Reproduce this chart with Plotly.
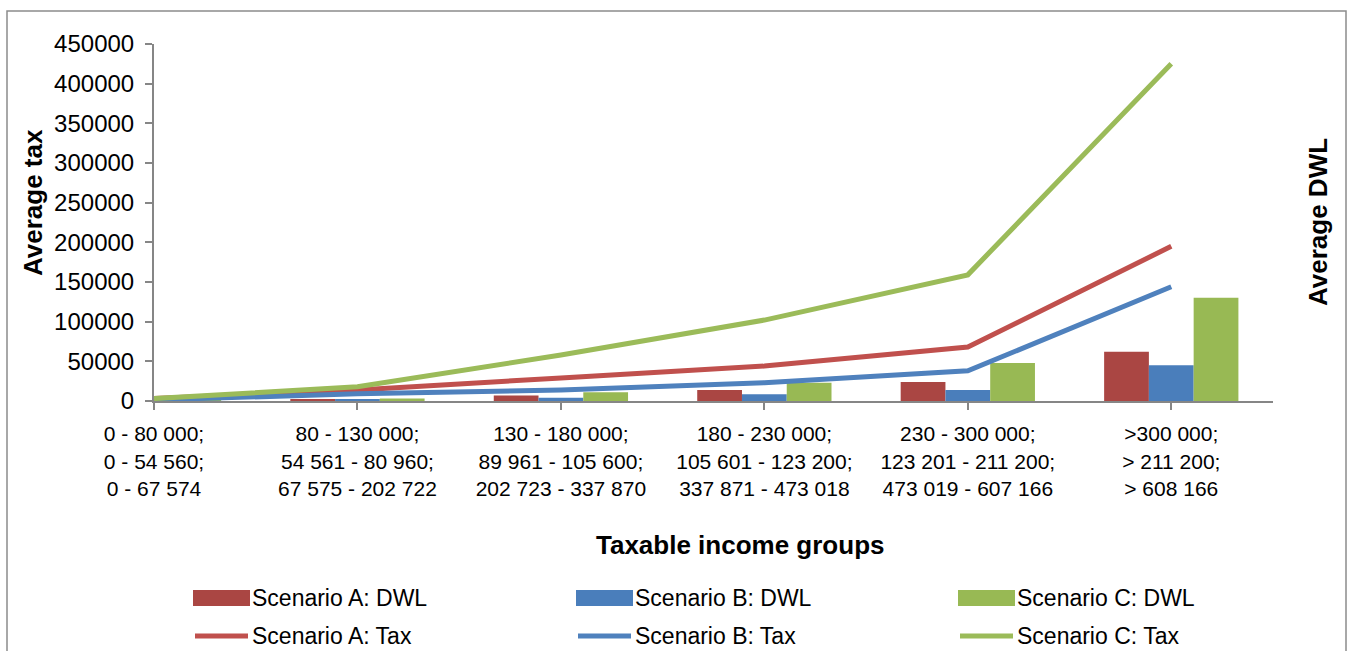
import plotly.graph_objects as go

# Income group labels (three bracket definitions per group)
groups = [
    "0 - 80 000;<br>0 - 54 560;<br>0 - 67 574",
    "80 - 130 000;<br>54 561 - 80 960;<br>67 575 - 202 722",
    "130 - 180 000;<br>89 961 - 105 600;<br>202 723 - 337 870",
    "180 - 230 000;<br>105 601 - 123 200;<br>337 871 - 473 018",
    "230 - 300 000;<br>123 201 - 211 200;<br>473 019 - 607 166",
    ">300 000;<br>> 211 200;<br>> 608 166",
]
positions = [0, 1, 2, 3, 4, 5]

# Average deadweight loss per scenario
dwl_a = [300, 2000, 7000, 14000, 24000, 62000]
dwl_b = [200, 1500, 4000, 8500, 14000, 45000]
dwl_c = [400, 3000, 11000, 23000, 48000, 130000]

# Average tax per scenario
tax_a = [3000, 14000, 29000, 44000, 68000, 195000]
tax_b = [1500, 9000, 14000, 23000, 38000, 144000]
tax_c = [3000, 18000, 58000, 102000, 159000, 425000]

y_ticks = [0, 50000, 100000, 150000, 200000, 250000, 300000, 350000, 400000, 450000]

bar_names = ["Scenario A: DWL", "Scenario B: DWL", "Scenario C: DWL"]
line_names = ["Scenario A: Tax", "Scenario B: Tax", "Scenario C: Tax"]
bar_colors = ["#AA4643", "#4A7EBB", "#98B954"]
line_colors = ["#C0504D", "#4F81BD", "#9BBB59"]

W, H = 1351, 651
ML, MR, MT, MB = 154, 78, 44, 250
PW, PH = W - ML - MR, H - MT - MB


def px_x(p):
    return (p - ML) / PW


def px_y(p):
    return (H - MB - p) / PH


fig = go.Figure()

for name, vals, col in zip(bar_names, [dwl_a, dwl_b, dwl_c], bar_colors):
    fig.add_trace(go.Bar(x=positions, y=vals, name=name, marker_color=col,
                         marker_line_width=0, yaxis="y", showlegend=False))

for name, vals, col in zip(line_names, [tax_a, tax_b, tax_c], line_colors):
    fig.add_trace(go.Scatter(x=positions, y=vals, name=name, mode="lines",
                             line=dict(color=col, width=5), yaxis="y2",
                             showlegend=False))

axis_gray = "#868686"
tick_font = dict(family="Liberation Sans, Arial, sans-serif", size=24, color="#000")

fig.update_layout(
    width=W, height=H,
    margin=dict(l=ML, r=MR, t=MT, b=MB),
    paper_bgcolor="white", plot_bgcolor="white",
    barmode="group", bargap=0.34, bargroupgap=0,
    xaxis=dict(
        range=[0, 5.5], tickvals=positions, ticktext=groups,
        showgrid=False, zeroline=False, showline=True, linecolor=axis_gray,
        linewidth=2, ticks="outside", ticklen=7, tickcolor=axis_gray, tickwidth=2,
        tickfont=dict(family="Liberation Sans Narrow, Arial Narrow, Liberation Sans, sans-serif",
                      size=21, color="#000"),
        ticklabelstandoff=6,
    ),
    yaxis=dict(
        range=[0, 450000], side="right", showticklabels=False, showgrid=False,
        zeroline=False, showline=False, ticks="",
    ),
    yaxis2=dict(
        range=[0, 450000], overlaying="y", side="left", tickvals=y_ticks,
        tickformat="d", showgrid=False, zeroline=False, showline=True,
        linecolor=axis_gray, linewidth=2, ticks="outside", ticklen=7,
        tickcolor=axis_gray, tickwidth=2, tickfont=tick_font,
        ticklabelstandoff=6,
    ),
)

title_font = dict(family="Liberation Sans, Arial, sans-serif", size=26, color="#000")
fig.add_annotation(text="<b>Average tax</b>", textangle=-90, xref="paper", yref="paper",
                   x=px_x(33), y=px_y(203), xanchor="center", yanchor="middle",
                   showarrow=False, font=title_font)
fig.add_annotation(text="<b>Average DWL</b>", textangle=-90, xref="paper", yref="paper",
                   x=px_x(1318), y=px_y(222), xanchor="center", yanchor="middle",
                   showarrow=False, font=title_font)
fig.add_annotation(text="<b>Taxable income groups</b>", xref="paper", yref="paper",
                   x=px_x(740), y=px_y(545), xanchor="center", yanchor="middle",
                   showarrow=False, font=title_font)

# Chart border
fig.add_shape(type="rect", xref="paper", yref="paper",
              x0=px_x(7), x1=px_x(1346), y0=px_y(670), y1=px_y(11),
              line=dict(color="#8C8C8C", width=1.5), fillcolor="rgba(0,0,0,0)")

# Legend: bars on the first row, lines on the second
col_x = [193, 576, 958]
row_y = [598, 636]
sw = 57
legend_font = dict(family="Liberation Sans, Arial, sans-serif", size=23, color="#000")
for i in range(3):
    x0 = col_x[i]
    fig.add_shape(type="rect", xref="paper", yref="paper",
                  x0=px_x(x0), x1=px_x(x0 + sw), y0=px_y(row_y[0] + 8), y1=px_y(row_y[0] - 8),
                  line_width=0, fillcolor=bar_colors[i])
    fig.add_annotation(text=bar_names[i], xref="paper", yref="paper",
                       x=px_x(x0 + sw), y=px_y(row_y[0]), xanchor="left", yanchor="middle",
                       showarrow=False, font=legend_font)
    fig.add_shape(type="line", xref="paper", yref="paper",
                  x0=px_x(x0 + 2), x1=px_x(x0 + sw - 2), y0=px_y(row_y[1]), y1=px_y(row_y[1]),
                  line=dict(color=line_colors[i], width=5))
    fig.add_annotation(text=line_names[i], xref="paper", yref="paper",
                       x=px_x(x0 + sw), y=px_y(row_y[1]), xanchor="left", yanchor="middle",
                       showarrow=False, font=legend_font)

fig.write_html("out.html")
